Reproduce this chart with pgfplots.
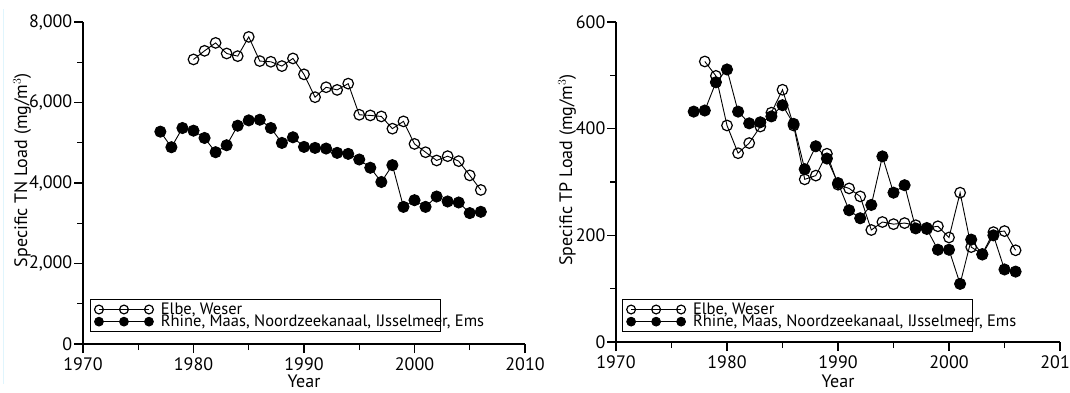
\documentclass[border=0pt]{standalone}
\usepackage{fontspec}
\setmainfont{PT Sans}
\usepackage{pgfplots}
\pgfplotsset{compat=1.18}

% specific nutrient loads
\pgfplotstableread{
year tn
1980 7070
1981 7284
1982 7481
1983 7218
1984 7152
1985 7630
1986 7029
1987 7012
1988 6905
1989 7095
1990 6700
1991 6132
1992 6379
1993 6313
1994 6469
1995 5695
1996 5679
1997 5654
1998 5350
1999 5531
2000 4971
2001 4765
2002 4560
2003 4667
2004 4543
2005 4189
2006 3827
}\tnelbe
\pgfplotstableread{
year tn
1977 5276
1978 4889
1979 5366
1980 5300
1981 5119
1982 4765
1983 4938
1984 5424
1985 5556
1986 5572
1987 5366
1988 4996
1989 5136
1990 4897
1991 4872
1992 4856
1993 4749
1994 4724
1995 4584
1996 4379
1997 4025
1998 4444
1999 3407
2000 3573
2001 3407
2002 3664
2003 3541
2004 3516
2005 3252
2006 3284
}\tnrhine
\pgfplotstableread{
year tp
1978 526
1979 499
1980 406
1981 354
1982 373
1983 404
1984 430
1985 473
1986 406
1987 305
1988 312
1989 353
1990 295
1991 288
1992 273
1993 210
1994 225
1995 221
1996 223
1997 219
1998 214
1999 217
2000 196
2001 280
2002 178
2003 165
2004 206
2005 208
2006 172
}\tpelbe
\pgfplotstableread{
year tp
1977 432
1978 434
1979 487
1980 511
1981 432
1982 410
1983 412
1984 423
1985 444
1986 409
1987 324
1988 367
1989 344
1990 298
1991 247
1992 232
1993 257
1994 348
1995 280
1996 294
1997 213
1998 212
1999 173
2000 173
2001 109
2002 192
2003 164
2004 200
2005 136
2006 132
}\tprhine

\pgfplotsset{
  panel/.style={
    scale only axis,
    axis x line*=bottom,
    axis y line*=left,
    axis line style={line width=1.2pt},
    every tick/.style={black, line width=1.1pt},
    tick align=outside,
    major tick length=9pt,
    minor tick length=6pt,
    xmin=1970, xmax=2010,
    xtick={1970,1980,...,2010},
    minor xtick={1975,1985,...,2005},
    x tick label style={/pgf/number format/1000 sep={}, inner sep=1pt, yshift=-3pt},
    y tick label style={inner sep=1.5pt},
    /pgf/number format/assume math mode=true,
    tick label style={font=\fontsize{18}{18}\selectfont},
    label style={font=\fontsize{18}{18}\selectfont},
    xlabel={Year},
    legend cell align=left,
    legend style={draw=black, line width=1pt, inner xsep=4pt, inner ysep=1.5pt,
      font=\fontsize{16.5}{16.5}\selectfont, row sep=-4pt,
      nodes={inner sep=1.5pt},
      /tikz/every odd column/.append style={column sep=6pt}},
    legend image code/.code={
      \draw[#1, mark repeat=1, mark size=4.4pt]
        plot coordinates {(0pt,0pt) (25pt,0pt) (50pt,0pt)};
    },
  },
  elbe/.style={black, line width=0.9pt, mark=o, mark size=5.3pt,
    mark options={line width=1.2pt}},
  rhine/.style={black, line width=0.9pt, mark=*, mark size=5.6pt,
    mark options={fill=black}},
}

\begin{document}
\begin{tikzpicture}
\useasboundingbox (0pt,0pt) rectangle (1070pt,392pt);
\draw[cyan!12, line width=1pt] (3pt,8pt) -- (3pt,383pt);

\begin{axis}[panel,
  at={(83pt,48pt)}, anchor=south west,
  width=442pt, height=322pt,
  ymin=0, ymax=8000,
  ytick={0,2000,...,8000},
  minor ytick={1000,3000,...,7000},
  y tick label style={/pgf/number format/1000 sep={,}},
  ylabel={Specific TN Load (mg/m$^3$)},
  ylabel style={at={(axis description cs:-0.138,0.54)}, anchor=center},
  xlabel style={at={(axis description cs:0.5,-0.116)}, anchor=center, inner sep=0pt},
  legend style={at={(axis description cs:0.016,0.038)}, anchor=south west},
]
\addplot[elbe] table[x=year, y=tn] {\tnelbe};
\addlegendentry{Elbe, Weser}
\addplot[rhine] table[x=year, y=tn] {\tnrhine};
\addlegendentry{\makebox[274pt][l]{Rhine, Maas, Noordzeekanaal, IJsselmeer, Ems}}
\end{axis}

\begin{axis}[panel,
  at={(616pt,50pt)}, anchor=south west,
  width=444pt, height=320pt,
  ymin=0, ymax=600,
  ytick={0,200,...,600},
  minor ytick={100,300,500},
  ylabel={Specific TP Load (mg/m$^3$)},
  ylabel style={at={(axis description cs:-0.110,0.5375)}, anchor=center},
  xlabel style={at={(axis description cs:0.5,-0.123)}, anchor=center, inner sep=0pt},
  legend style={at={(axis description cs:0.014,0.032)}, anchor=south west},
]
\addplot[elbe] table[x=year, y=tp] {\tpelbe};
\addlegendentry{Elbe, Weser}
\addplot[rhine] table[x=year, y=tp] {\tprhine};
\addlegendentry{\makebox[274pt][l]{Rhine, Maas, Noordzeekanaal, IJsselmeer, Ems}}
\end{axis}
\end{tikzpicture}
\end{document}
